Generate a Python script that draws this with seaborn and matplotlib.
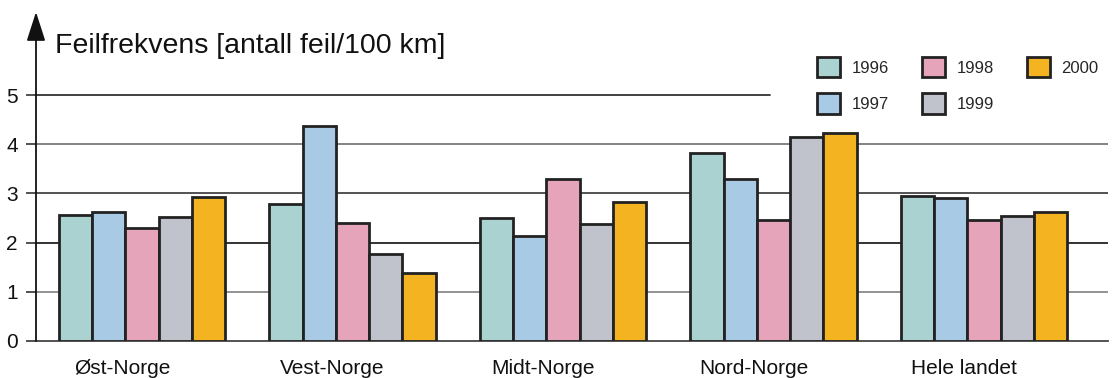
import numpy as np
import pandas as pd
import matplotlib
matplotlib.use("Agg")
import matplotlib.pyplot as plt
import matplotlib.transforms as mtransforms
import seaborn as sns

# Fault frequency per region and year (faults per 100 km)
regions = ["Øst-Norge", "Vest-Norge", "Midt-Norge", "Nord-Norge", "Hele landet"]
years = ["1996", "1997", "1998", "1999", "2000"]
v1996 = [2.57, 2.79, 2.51, 3.82, 2.95]
v1997 = [2.63, 4.37, 2.14, 3.30, 2.91]
v1998 = [2.30, 2.39, 3.30, 2.46, 2.46]
v1999 = [2.52, 1.77, 2.37, 4.15, 2.55]
v2000 = [2.92, 1.38, 2.82, 4.22, 2.62]
yticks = [0, 1, 2, 3, 4, 5]
ylabel = "Feilfrekvens [antall feil/100 km]"

colors = ["#aad2d0", "#a8cae4", "#e6a4bb", "#c0c3cb", "#f4b321"]

series = [v1996, v1997, v1998, v1999, v2000]
df = pd.DataFrame(
    [(r, y, vals[i]) for y, vals in zip(years, series) for i, r in enumerate(regions)],
    columns=["region", "year", "value"],
)

sns.set_theme(style="white")
plt.rcParams["font.family"] = ["Liberation Sans", "DejaVu Sans"]

W, H = 1113, 378
fig = plt.figure(figsize=(W / 100, H / 100), dpi=100)
ax = fig.add_axes([36 / W, 1 - 341 / H, (1108 - 36) / W, (341 - 12) / H])

sns.barplot(
    data=df, x="region", y="value", hue="year", order=regions, hue_order=years,
    palette=colors, width=0.79, edgecolor="#222222", linewidth=2.0,
    saturation=1, ax=ax, legend=True, zorder=3,
)

ax.set_xlim(-0.5036, 4.589)
ax.set_ylim(0, 6.69)
ax.set_yticks(yticks)
ax.set_yticklabels([str(t) for t in yticks], fontsize=15, color="#111111")
ax.set_xlabel("")
ax.set_ylabel("")

# horizontal reference lines at each tick, the top one stops short of the legend
grid_colors = {1: "#8a8a8a", 2: "#222222", 3: "#444444", 4: "#7a7a7a", 5: "#333333"}
for t in yticks[1:]:
    xmax = (770 - 36) / (1108 - 36) if t == yticks[-1] else 1.0
    ax.axhline(t, xmin=0, xmax=xmax, color=grid_colors[t], lw=1.3, zorder=1)

for s in ["top", "right", "left"]:
    ax.spines[s].set_visible(False)
ax.spines["bottom"].set_color("#444444")
ax.spines["bottom"].set_linewidth(1.3)

ax.tick_params(axis="y", length=7, width=1.2, color="#333333", pad=6, left=True)
ax.tick_params(axis="x", length=0, pad=13)
# category labels sit a little to the left of the group centres
offset = mtransforms.ScaledTranslation(-20 / 100, 0, fig.dpi_scale_trans)
for lab in ax.get_xticklabels():
    lab.set_fontsize(15)
    lab.set_color("#111111")
    lab.set_transform(lab.get_transform() + offset)

# vertical axis with an arrowhead
ax.annotate("", xy=(0, 1.0), xytext=(0, 0), xycoords="axes fraction",
            arrowprops=dict(arrowstyle="-|>,head_length=18,head_width=5.8",
                            mutation_scale=1, color="#111111", lw=1.3,
                            shrinkA=0, shrinkB=0), zorder=5, annotation_clip=False)

fig.text(55 / W, 1 - 46 / H, ylabel, fontsize=20.5, color="#111111",
         ha="left", va="center")

handles, labels = ax.get_legend_handles_labels()
ax.legend(handles, labels, ncol=3, loc="upper left",
          bbox_to_anchor=(817 / W, 1 - 57 / H), bbox_transform=fig.transFigure,
          frameon=False, fontsize=12, borderpad=0, borderaxespad=0,
          handlelength=1.4, handleheight=1.5, handletextpad=0.7,
          columnspacing=1.95, labelspacing=0.95)

fig.savefig("out.png", dpi=100)
